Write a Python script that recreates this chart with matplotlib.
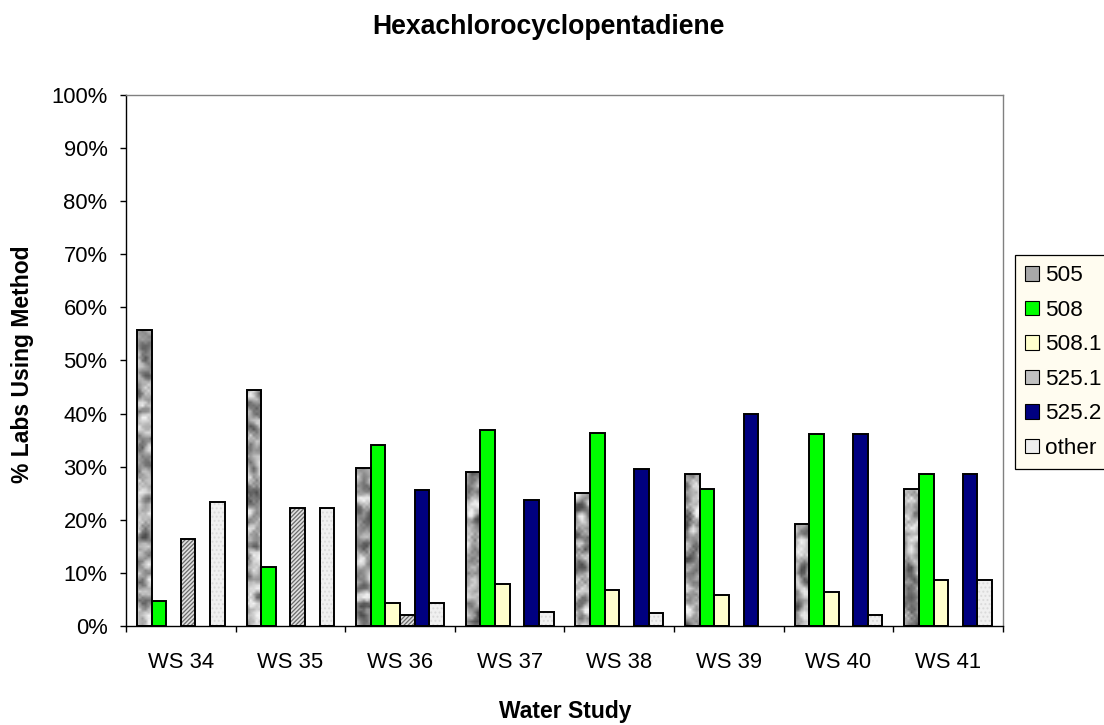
import numpy as np
import matplotlib
matplotlib.use("Agg")
import matplotlib.pyplot as plt
from matplotlib.patches import Patch

plt.rcParams['font.family'] = ['Liberation Sans', 'DejaVu Sans']
plt.rcParams['hatch.linewidth'] = 0.9

# % of labs using each method, per water study
studies = ['WS 34', 'WS 35', 'WS 36', 'WS 37', 'WS 38', 'WS 39', 'WS 40', 'WS 41']
m505 = [55.8, 44.4, 29.8, 28.9, 25.0, 28.6, 19.1, 25.7]
m508 = [4.7, 11.1, 34.0, 36.8, 36.4, 25.7, 36.2, 28.6]
m508_1 = [0, 0, 4.3, 7.9, 6.8, 5.7, 6.4, 8.6]
m525_1 = [16.3, 22.2, 2.1, 0, 0, 0, 0, 0]
m525_2 = [0, 0, 25.5, 23.7, 29.5, 40.0, 36.2, 28.6]
other = [23.3, 22.2, 4.3, 2.6, 2.3, 0, 2.1, 8.6]
series_names = ['505', '508', '508.1', '525.1', '525.2', 'other']

fig = plt.figure(figsize=(11.04, 7.25), dpi=100)
ax = fig.add_axes([0.1141, 0.137, 0.7944, 0.7316])

ncat = len(studies)
bw = 0.8 / 6
x0 = np.arange(ncat) + 0.1

# granite-like texture for the 505 bars (fill pattern only)
rng = np.random.default_rng(7)
tex = rng.random((177, 293))
for _ in range(2):
    tex = (tex + np.roll(tex, 1, 0) + np.roll(tex, -1, 0)
           + np.roll(tex, 1, 1) + np.roll(tex, -1, 1)) / 5
tex = (tex - tex.mean()) / tex.std()
tex = np.clip(0.66 + 0.15 * tex, 0.3, 0.95)


def draw_bars(k, vals, face, hatch=None, hcolor=None, texture=False):
    xs = [x0[i] + k * bw for i in range(ncat) if vals[i] > 0]
    hs = [v for v in vals if v > 0]
    if texture:
        shapes = ax.bar(xs, hs, width=bw, align='edge', facecolor='none',
                        edgecolor='none', linewidth=0)
        for p in shapes:
            im = ax.imshow(tex, cmap='gray', vmin=0, vmax=1, extent=(0, ncat, 0, 100),
                           aspect='auto', interpolation='bilinear', zorder=1)
            im.set_clip_path(p)
    elif hatch:
        ax.bar(xs, hs, width=bw, align='edge', facecolor=face, edgecolor=hcolor,
               hatch=hatch, linewidth=0, zorder=1)
    else:
        ax.bar(xs, hs, width=bw, align='edge', facecolor=face, linewidth=0, zorder=1)
    ax.bar(xs, hs, width=bw, align='edge', facecolor='none', edgecolor='black',
           linewidth=1.4, zorder=2)


draw_bars(0, m505, '#a8a8a8', texture=True)
draw_bars(1, m508, '#00ff00')
draw_bars(2, m508_1, '#ffffcc')
draw_bars(3, m525_1, '#e0e0e0', hatch='////////', hcolor='#6a6a6a')
draw_bars(4, m525_2, '#000080')
draw_bars(5, other, '#f0f0f0', hatch='....', hcolor='#dadada')

ax.set_xlim(0, ncat)
ax.set_ylim(0, 100)

ax.set_yticks(np.arange(0, 101, 10))
ax.set_yticklabels([f'{v}%' for v in range(0, 101, 10)])
ax.set_xticks(np.arange(ncat) + 0.5)
ax.set_xticklabels(studies)
ax.set_xticks(np.arange(ncat + 1), minor=True)
ax.tick_params(axis='y', direction='out', length=4.3, width=1, labelsize=15.8, pad=9)
ax.tick_params(axis='x', which='major', length=0, labelsize=15.8, pad=19)
ax.tick_params(axis='x', which='minor', direction='out', length=4, width=1)

for s in ['left', 'bottom']:
    ax.spines[s].set_color('black')
    ax.spines[s].set_linewidth(1)
for s in ['top', 'right']:
    ax.spines[s].set_color('#808080')
    ax.spines[s].set_linewidth(1)

fig.text(0.497, 0.963, 'Hexachlorocyclopentadiene', ha='center', va='center',
         fontsize=19.2, fontweight='bold')
fig.text(0.5118, 0.018, 'Water Study', ha='center', va='center',
         fontsize=16.5, fontweight='bold')
fig.text(0.02, 0.498, '% Labs Using Method', ha='center', va='center',
         rotation=90, fontsize=16.5, fontweight='bold')

handles = [
    Patch(facecolor='#a8a8a8', edgecolor='black', linewidth=0.8),
    Patch(facecolor='#00ff00', edgecolor='black', linewidth=0.8),
    Patch(facecolor='#ffffcc', edgecolor='black', linewidth=0.8),
    Patch(facecolor='#c0c0c0', edgecolor='black', linewidth=0.8),
    Patch(facecolor='#000080', edgecolor='black', linewidth=0.8),
    Patch(facecolor='#eeeeee', edgecolor='black', linewidth=0.8),
]
leg = fig.legend(handles, series_names, loc='upper left', bbox_to_anchor=(0.919, 0.648),
                 fontsize=16.2, frameon=True, fancybox=False, framealpha=1,
                 facecolor='#fffcf0', edgecolor='black', handlelength=0.62,
                 handleheight=0.62, handletextpad=0.3, labelspacing=0.6,
                 borderpad=0.45, borderaxespad=0)
leg.get_frame().set_linewidth(0.9)

fig.savefig('out.png', dpi=100)
